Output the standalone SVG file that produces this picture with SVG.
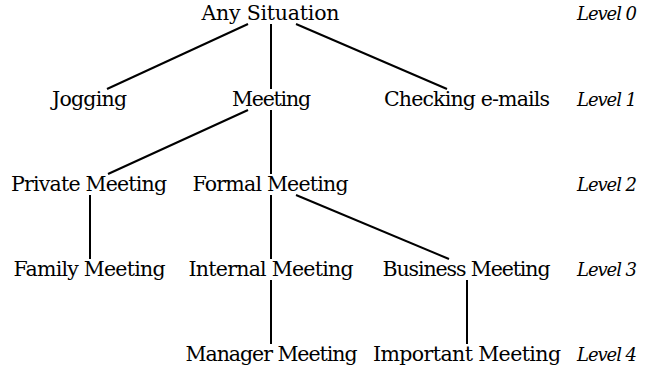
<svg xmlns="http://www.w3.org/2000/svg" width="650" height="369" viewBox="0 0 650 369">
  <style>
    .n { font-family: "DejaVu Serif", "Liberation Serif", serif; font-size: 20.5px; fill: #000; text-anchor: middle; }
    .lv { font-family: "DejaVu Serif", "Liberation Serif", serif; font-size: 18px; font-style: italic; fill: #000; }
    .e { stroke: #000; stroke-width: 2; fill: none; stroke-linecap: butt; }
  </style>
  <rect width="650" height="369" fill="#fff"/>

  <g id="edges">
    <line class="e" x1="248" y1="24" x2="107" y2="89"/>
    <line class="e" x1="271" y1="24" x2="271" y2="89"/>
    <line class="e" x1="296" y1="24" x2="447" y2="89"/>
    <line class="e" x1="248" y1="110" x2="108" y2="174"/>
    <line class="e" x1="271" y1="110" x2="271" y2="174"/>
    <line class="e" x1="90" y1="195" x2="90" y2="259"/>
    <line class="e" x1="271" y1="195" x2="271" y2="259"/>
    <line class="e" x1="296" y1="195" x2="449" y2="259"/>
    <line class="e" x1="271" y1="280" x2="271" y2="344"/>
    <line class="e" x1="467" y1="280" x2="467" y2="344"/>
  </g>

  <g id="any-situation"><text class="n" x="270.5" y="20" textLength="138">Any Situation</text></g>
  <g id="jogging"><text class="n" x="89.5" y="106" textLength="75">Jogging</text></g>
  <g id="meeting"><text class="n" x="271.5" y="106" textLength="79">Meeting</text></g>
  <g id="checking-emails"><text class="n" x="467" y="106" textLength="166">Checking e-mails</text></g>
  <g id="private-meeting"><text class="n" x="89" y="191" textLength="156">Private Meeting</text></g>
  <g id="formal-meeting"><text class="n" x="270.5" y="191" textLength="156">Formal Meeting</text></g>
  <g id="family-meeting"><text class="n" x="89.5" y="276" textLength="152">Family Meeting</text></g>
  <g id="internal-meeting"><text class="n" x="271" y="276" textLength="165">Internal Meeting</text></g>
  <g id="business-meeting"><text class="n" x="466.5" y="276" textLength="168">Business Meeting</text></g>
  <g id="manager-meeting"><text class="n" x="271.5" y="361" textLength="172">Manager Meeting</text></g>
  <g id="important-meeting"><text class="n" x="467" y="361" textLength="188">Important Meeting</text></g>

  <g id="levels">
    <text class="lv" x="577" y="20" textLength="60">Level 0</text>
    <text class="lv" x="577" y="106" textLength="60">Level 1</text>
    <text class="lv" x="577" y="191" textLength="60">Level 2</text>
    <text class="lv" x="577" y="276" textLength="60">Level 3</text>
    <text class="lv" x="577" y="361" textLength="60">Level 4</text>
  </g>
</svg>
